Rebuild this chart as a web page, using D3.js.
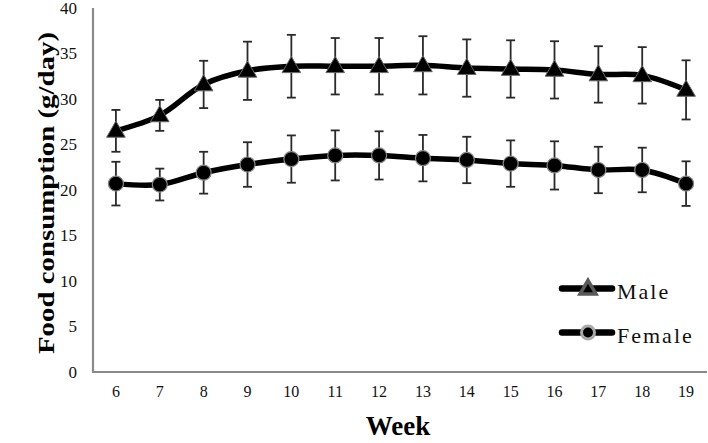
<!DOCTYPE html>
<html>
<head>
<meta charset="utf-8">
<script src="https://cdn.jsdelivr.net/npm/d3@7"></script>
<style>
  html, body { margin: 0; padding: 0; background: #fff; }
  svg { display: block; }
  text { font-family: "Liberation Serif", "Times New Roman", serif; }
</style>
</head>
<body>
<svg id="chart" width="708" height="443"></svg>
<script>
const weeks = [6, 7, 8, 9, 10, 11, 12, 13, 14, 15, 16, 17, 18, 19];
const maleMean = [26.5, 28.2, 31.6, 33.1, 33.6, 33.6, 33.6, 33.7, 33.4, 33.3, 33.2, 32.7, 32.6, 31.0];
const maleSD = [2.3, 1.7, 2.6, 3.2, 3.45, 3.1, 3.1, 3.2, 3.15, 3.15, 3.15, 3.1, 3.1, 3.25];
const femaleMean = [20.7, 20.6, 21.9, 22.8, 23.4, 23.8, 23.8, 23.5, 23.3, 22.9, 22.7, 22.2, 22.2, 20.7];
const femaleSD = [2.4, 1.75, 2.3, 2.45, 2.6, 2.75, 2.65, 2.55, 2.55, 2.55, 2.65, 2.55, 2.45, 2.45];
const yTicks = [0, 5, 10, 15, 20, 25, 30, 35, 40];
const seriesNames = ["Male", "Female"];
const xTitle = "Week";
const yTitle = "Food consumption (g/day)";

const svg = d3.select("#chart");

const x = d3.scaleBand().domain(weeks).range([94, 708]);
const y = d3.scaleLinear().domain([0, 40]).range([372, 8]);
const cx = w => x(w) + x.bandwidth() / 2;

// axes
const xAxis = d3.axisBottom(x).tickSize(0).tickPadding(14);
const gx = svg.append("g").attr("transform", "translate(0,372)").call(xAxis);
gx.select(".domain").remove();
gx.selectAll("text").attr("font-size", 16).attr("fill", "#111");

const yAxis = d3.axisLeft(y).tickValues(yTicks).tickSize(0).tickPadding(16);
const gy = svg.append("g").attr("transform", "translate(93,0)").call(yAxis);
gy.select(".domain").remove();
gy.selectAll("text").attr("font-size", 17).attr("fill", "#111");

// axis lines
svg.append("path")
  .attr("d", `M93,${y(40)}V372H707`)
  .attr("fill", "none").attr("stroke", "#8a8a8a").attr("stroke-width", 2.2);

// titles
svg.append("text").text(xTitle)
  .attr("x", 398).attr("y", 435).attr("text-anchor", "middle")
  .attr("font-size", 27).attr("font-weight", "bold").attr("fill", "#000");

svg.append("text").text(yTitle)
  .attr("transform", "translate(54,193) rotate(-90)")
  .attr("text-anchor", "middle")
  .attr("font-size", 24).attr("font-weight", "bold").attr("fill", "#000")
  .attr("textLength", 322).attr("lengthAdjust", "spacingAndGlyphs");

const series = [
  { name: seriesNames[0], mean: maleMean, sd: maleSD, shape: "tri" },
  { name: seriesNames[1], mean: femaleMean, sd: femaleSD, shape: "circ" }
];

// error bars
series.forEach(s => {
  const g = svg.append("g").attr("stroke", "#2a2a2a").attr("stroke-width", 1.8).attr("fill", "none");
  weeks.forEach((w, i) => {
    const xc = cx(w), top = y(s.mean[i] + s.sd[i]), bot = y(s.mean[i] - s.sd[i]);
    g.append("line").attr("x1", xc).attr("x2", xc).attr("y1", top).attr("y2", bot);
    g.append("line").attr("x1", xc - 4.5).attr("x2", xc + 4.5).attr("y1", top).attr("y2", top);
    g.append("line").attr("x1", xc - 4.5).attr("x2", xc + 4.5).attr("y1", bot).attr("y2", bot);
  });
});

// lines
const line = d3.line()
  .x((d, i) => cx(weeks[i]))
  .y(d => y(d))
  .curve(d3.curveCatmullRom.alpha(0.5));

series.forEach(s => {
  svg.append("path").datum(s.mean)
    .attr("d", line)
    .attr("fill", "none").attr("stroke", "#000").attr("stroke-width", 5.5)
    .attr("stroke-linejoin", "round");
});

const triSym = d3.symbol().type(d3.symbolTriangle).size(150);
const triSymLeg = d3.symbol().type(d3.symbolTriangle).size(110);

// markers
series.forEach(s => {
  const g = svg.append("g");
  weeks.forEach((w, i) => {
    if (s.shape === "tri") {
      g.append("path").attr("d", triSym())
        .attr("transform", `translate(${cx(w)},${y(s.mean[i]) + 1})`)
        .attr("fill", "#000").attr("stroke", "#666").attr("stroke-width", 1);
    } else {
      g.append("circle").attr("cx", cx(w)).attr("cy", y(s.mean[i])).attr("r", 7.5)
        .attr("fill", "#000").attr("stroke", "#888").attr("stroke-width", 1.2);
    }
  });
});

// legend
const legY = [288.5, 332.5];
series.forEach((s, k) => {
  const g = svg.append("g");
  g.append("line").attr("x1", 562).attr("x2", 612).attr("y1", legY[k]).attr("y2", legY[k])
    .attr("stroke", "#000").attr("stroke-width", 6.5).attr("stroke-linecap", "round");
  if (s.shape === "tri") {
    g.append("path").attr("d", triSymLeg())
      .attr("transform", `translate(588,${legY[k] + 1})`)
      .attr("fill", "#000").attr("stroke", "#5a5a5a").attr("stroke-width", 3.5);
  } else {
    g.append("circle").attr("cx", 588).attr("cy", legY[k]).attr("r", 6.5)
      .attr("fill", "#000").attr("stroke", "#aaa").attr("stroke-width", 3);
  }
  g.append("text").text(s.name)
    .attr("x", 617).attr("y", legY[k] + 10)
    .attr("font-size", 22).attr("letter-spacing", 2).attr("fill", "#111");
});
</script>
</body>
</html>
